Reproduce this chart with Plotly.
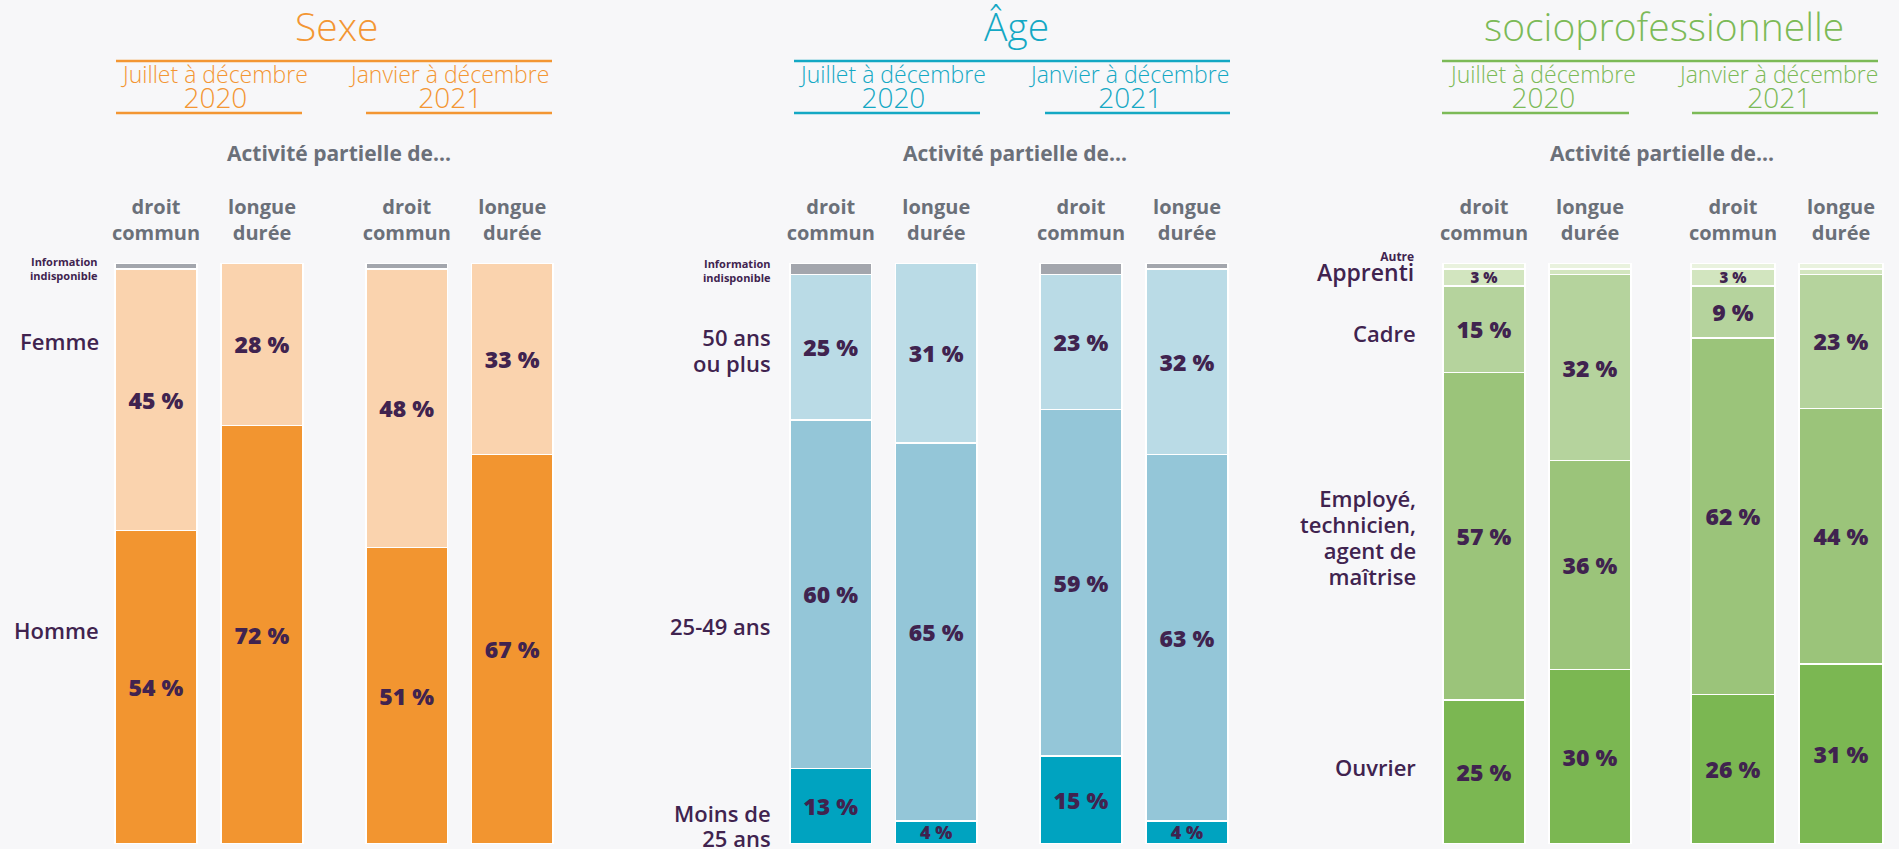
import plotly.graph_objects as go

W, H = 1899, 849
BG = "#f7f7f9"
DARK = "#40234f"
GRAY_TXT = "#6b7079"
FONT = "Open Sans"

ORANGE = "#f39633"
TEAL = "#14a8c4"
GREEN = "#7cba57"

# ---------------- data ----------------
dispositifs = ["droit<br>commun", "longue<br>durée"]
periods = ["Juillet à décembre", "Janvier à décembre"]
years = ["2020", "2021"]

# order of values: [2020 droit commun, 2020 longue durée, 2021 droit commun, 2021 longue durée]
sexe_homme = [54, 72, 51, 67]
sexe_femme = [45, 28, 48, 33]
sexe_indispo = [1, 0, 1, 0]

age_moins25 = [13, 4, 15, 4]
age_25_49 = [60, 65, 59, 63]
age_50plus = [25, 31, 23, 32]
age_indispo = [2, 0, 2, 1]

csp_ouvrier = [25, 30, 26, 31]
csp_employe = [57, 36, 62, 44]
csp_cadre = [15, 32, 9, 23]
csp_apprenti = [3, 1, 3, 1]
csp_autre = [1, 1, 1, 1]

panels = [
    {
        "title": "Sexe", "color": ORANGE,
        "series": [
            (sexe_homme, "#f29530", True),
            (sexe_femme, "#fad3ae", True),
            (sexe_indispo, "#a3a6ad", False),
        ],
    },
    {
        "title": "Âge", "color": TEAL,
        "series": [
            (age_moins25, "#00a3c0", True),
            (age_25_49, "#94c6d8", True),
            (age_50plus, "#badbe6", True),
            (age_indispo, "#a3a6ad", False),
        ],
    },
    {
        "title": "socioprofessionnelle", "color": GREEN,
        "series": [
            (csp_ouvrier, "#7bb752", True),
            (csp_employe, "#9bc47a", True),
            (csp_cadre, "#b5d39d", True),
            (csp_apprenti, "#d2e5bf", True),
            (csp_autre, "#e9f2de", False),
        ],
    },
]

# ---------------- geometry (pixels) ----------------
sub_domains_px = [(103, 315), (354, 565), (778, 989), (1028, 1240), (1431, 1643), (1679, 1895)]
y_dom = [5 / H, 1 - 263 / H]


def px(x):
    return x / W


def py(y):
    return 1 - y / H


def lbl(v, labelled):
    if not labelled or v < 3:
        return ""
    return f"{v} %"


def lsize(v):
    if v <= 3:
        return 15
    if v <= 4:
        return 18
    return 23


fig = go.Figure()
layout_axes = {}
k = 0
for p_i, p in enumerate(panels):
    for half in range(2):
        k += 1
        xa = "x" if k == 1 else f"x{k}"
        ya = "y" if k == 1 else f"y{k}"
        for vals, col, labelled in p["series"]:
            v = vals[half * 2: half * 2 + 2]
            fig.add_trace(go.Bar(
                x=dispositifs, y=v, xaxis=xa, yaxis=ya,
                marker=dict(color=col, line=dict(color="white", width=1.5)),
                text=[lbl(t, labelled) for t in v],
                textposition="inside", insidetextanchor="middle",
                textangle=0, constraintext="none",
                textfont=dict(family=FONT, size=[lsize(t) for t in v], color=DARK, weight=800),
                hoverinfo="skip", showlegend=False,
            ))
        d0, d1 = sub_domains_px[k - 1]
        layout_axes["xaxis" if k == 1 else f"xaxis{k}"] = dict(
            domain=[px(d0), px(d1)], anchor=ya, side="top", showgrid=False, zeroline=False,
            showline=False, ticks="", ticklabelstandoff=18,
            tickfont=dict(family=FONT, size=20, color=GRAY_TXT, weight=700),
            fixedrange=True,
        )
        layout_axes["yaxis" if k == 1 else f"yaxis{k}"] = dict(
            domain=y_dom, anchor=xa, range=[0, 100], visible=False, fixedrange=True,
        )

fig.update_layout(**layout_axes)

anns = []
shapes = []


def ann(text, x, y, size, color, weight=400, xanchor="center"):
    anns.append(dict(
        text=text, x=px(x), y=py(y), xref="paper", yref="paper",
        xanchor=xanchor, yanchor="middle", showarrow=False,
        align="right" if xanchor == "right" else "center",
        font=dict(family=FONT, size=size, color=color, weight=weight),
    ))


def sz(t, s, w=None):
    extra = f";font-weight:{w}" if w else ""
    return f"<span style='font-size:{s}px{extra}'>{t}</span>"


def hline(x0, x1, y, color):
    shapes.append(dict(type="line", xref="paper", yref="paper",
                       x0=px(x0), x1=px(x1), y0=py(y), y1=py(y),
                       line=dict(color=color, width=2.5)))


header_geo = [
    dict(tx=337, top=(116, 552), u1=(116, 302), u2=(366, 552), pc=(214, 448), ax=339),
    dict(tx=1016, top=(794, 1230), u1=(794, 980), u2=(1045, 1230), pc=(892, 1128), ax=1015),
    dict(tx=1664, top=(1442, 1878), u1=(1442, 1629), u2=(1692, 1878), pc=(1542, 1777), ax=1662),
]

for p, g in zip(panels, header_geo):
    c = p["color"]
    ann(p["title"], g["tx"], 26, 39, c, weight=300)
    hline(g["top"][0], g["top"][1], 61, c)
    hline(g["u1"][0], g["u1"][1], 113, c)
    hline(g["u2"][0], g["u2"][1], 113, c)
    for i in range(2):
        ann(sz(periods[i], 23) + "<br>" + sz(years[i], 28), g["pc"][i], 87, 19, c, weight=300)
    ann("Activité partielle de...", g["ax"], 153, 21, GRAY_TXT, weight=700)

# category labels: (text, right x, y, base size, weight)
cat_labels = [
    ("Information<br>indisponible", 100, 268, 11, 700),
    (sz("Femme", 22), 101, 341, 22, 600),
    (sz("Homme", 22), 101, 630, 22, 600),
    ("Information<br>indisponible", 773, 270, 11, 700),
    (sz("50 ans", 22) + "<br>" + sz("ou plus", 22), 773, 350, 20, 600),
    (sz("25-49 ans", 22), 773, 626, 22, 600),
    (sz("Moins de", 22) + "<br>" + sz("25 ans", 22), 773, 825, 19, 600),
    (sz("Autre", 12, 700) + "<br>" + sz("Apprenti", 23, 600), 1416, 268, 15, 600),
    (sz("Cadre", 22), 1418, 333, 22, 600),
    ("<br>".join(sz(t, 22) for t in ["Employé,", "technicien,", "agent de", "maîtrise"]), 1418, 537, 20, 600),
    (sz("Ouvrier", 22), 1418, 767, 22, 600),
]
for t, x, y, s, w in cat_labels:
    ann(t, x, y, s, DARK, weight=w, xanchor="right")

fig.update_layout(
    width=W, height=H,
    margin=dict(l=0, r=0, t=0, b=0, pad=0),
    paper_bgcolor=BG, plot_bgcolor=BG,
    barmode="stack", barnorm="percent", bargap=0.226,
    annotations=anns, shapes=shapes,
    font=dict(family=FONT, color=DARK),
    showlegend=False,
)

fig.write_html(
    "out.html",
    config={"displayModeBar": False, "staticPlot": True},
    post_script="document.body.style.margin='0';document.body.style.background='#f7f7f9';document.body.style.overflow='hidden';",
)
